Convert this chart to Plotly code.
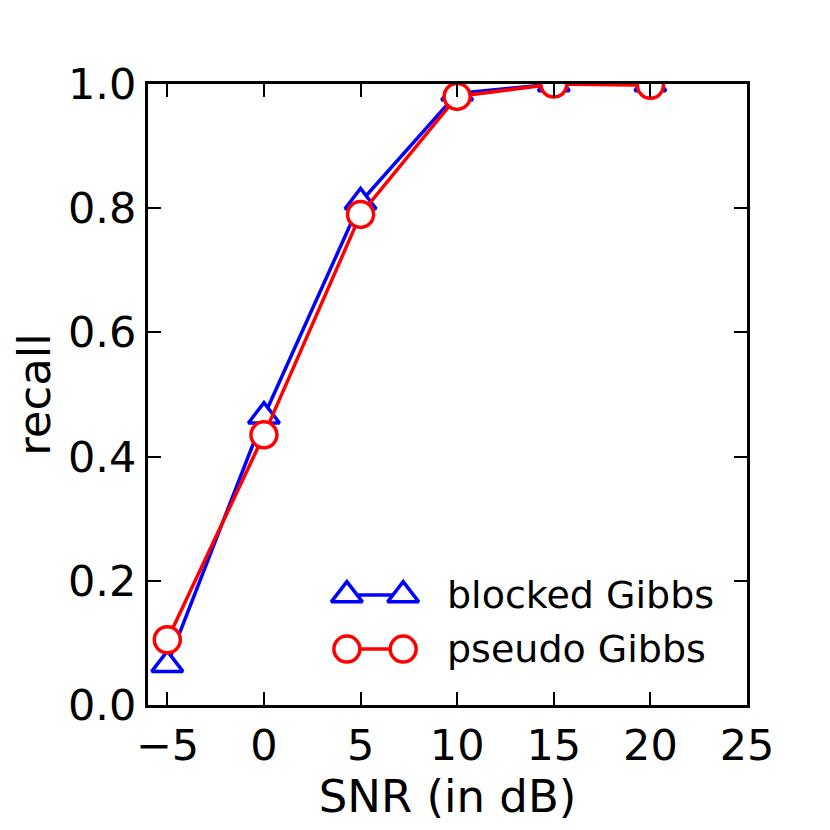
import plotly.graph_objects as go

snr = [-5, 0, 5, 10, 15, 20]
blocked = [0.065, 0.465, 0.81, 0.985, 1.0, 1.0]
pseudo = [0.105, 0.435, 0.79, 0.98, 1.0, 0.998]
names = ["blocked Gibbs", "pseudo Gibbs"]
colors = ["blue", "red"]
symbols = ["triangle-up", "circle"]
sizes = [27, 26]

FONT = "DejaVu Sans"
fig = go.Figure()

for yv, i in ((blocked, 0), (pseudo, 1)):
    fig.add_trace(go.Scatter(
        x=snr, y=yv, mode="lines+markers", name=names[i],
        line=dict(color=colors[i], width=3.5),
        marker=dict(symbol=symbols[i], size=sizes[i], color="white",
                    line=dict(color=colors[i], width=3.5)),
        showlegend=False, cliponaxis=True))

# custom legend on an overlay axis in [0,1] coordinates
leg_x = [0.332, 0.426]
leg_y = [0.177, 0.090]
text_x = 0.495
for i in range(2):
    fig.add_trace(go.Scatter(
        x=leg_x, y=[leg_y[i], leg_y[i]], mode="lines+markers",
        xaxis="x2", yaxis="y2", showlegend=False, hoverinfo="skip",
        line=dict(color=colors[i], width=3.5),
        marker=dict(symbol=symbols[i], size=sizes[i], color="white",
                    line=dict(color=colors[i], width=3.5))))
    fig.add_annotation(x=text_x, y=leg_y[i], xref="x2", yref="y2",
                       text=names[i], showarrow=False, xanchor="left",
                       yanchor="middle", font=dict(family=FONT, size=38, color="black"))

axis_common = dict(showline=True, linewidth=3, linecolor="black", mirror="ticks",
                   ticks="inside", ticklen=13, tickwidth=2, tickcolor="black",
                   showgrid=False, zeroline=False, layer="above traces",
                   tickfont=dict(family=FONT, size=43, color="black"))

fig.update_layout(
    width=830, height=830,
    margin=dict(l=140, r=91, t=76, b=133),
    paper_bgcolor="white", plot_bgcolor="white",
    xaxis=dict(range=[-6, 25], tickvals=[-5, 0, 5, 10, 15, 20, 25],
               title=dict(text="SNR (in dB)", font=dict(family=FONT, size=45, color="black"), standoff=4),
               **axis_common),
    yaxis=dict(range=[0, 1], tickvals=[0, 0.2, 0.4, 0.6, 0.8, 1.0], tickformat=".1f",
               title=dict(text="recall", font=dict(family=FONT, size=45, color="black"), standoff=12),
               **axis_common),
    xaxis2=dict(range=[0, 1], overlaying="x", visible=False, fixedrange=True),
    yaxis2=dict(range=[0, 1], overlaying="y", visible=False, fixedrange=True),
)

fig.write_html("out.html")
